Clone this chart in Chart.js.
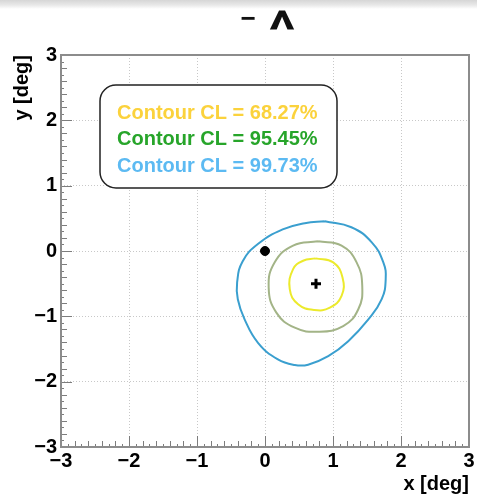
<!DOCTYPE html>
<html>
<head>
<meta charset="utf-8">
<script src="https://cdn.jsdelivr.net/npm/chart.js@4.4.1/dist/chart.umd.min.js"></script>
<style>
  html, body { margin: 0; padding: 0; }
  body { width: 477px; height: 496px; background: linear-gradient(to bottom, #d6d6d6 0px, #e8e8e8 5px, #ffffff 9px); }
  #plot { display: block; }
</style>
</head>
<body>
<canvas id="plot" width="477" height="496"></canvas>
<script>
// axis ticks (deg)
var tickValues = [-3, -2, -1, 0, 1, 2, 3];

// contour levels and their colours
var clLevels = ["68.27", "95.45", "99.73"];
var clLineColors = ["#ecea2c", "#a3b487", "#3a9fcf"];
var clTextColors = ["#fbd23c", "#27a52a", "#5cbaf2"];

// 68.27% contour
var c68X = [0.742, 1.003, 1.14, 1.126, 0.954, 0.723, 0.487, 0.364, 0.413, 0.56];
var c68Y = [-0.113, -0.174, -0.405, -0.687, -0.867, -0.903, -0.815, -0.585, -0.277, -0.149];

// 95.45% contour
var c95X = [0.78, 1.126, 1.347, 1.43, 1.372, 1.15, 0.78, 0.438, 0.167, 0.054, 0.143, 0.413];
var c95Y = [0.149, 0.082, -0.174, -0.533, -0.892, -1.149, -1.236, -1.174, -0.943, -0.559, -0.174, 0.082];

// 99.73% contour
var c99X = [0.88, 1.27, 1.57, 1.74, 1.775, 1.716, 1.52, 1.224, 0.93, 0.634, 0.438, 0.19, -0.103, -0.30, -0.40, -0.41, -0.33, -0.10, 0.26, 0.585];
var c99Y = [0.456, 0.364, 0.133, -0.174, -0.431, -0.738, -1.046, -1.38, -1.61, -1.74, -1.745, -1.66, -1.405, -1.046, -0.738, -0.482, -0.16, 0.11, 0.33, 0.425];

// nominal position and best fit
var nominalX = [0];
var nominalY = [0];
var bestX = [0.75];
var bestY = [-0.5];

function toPoints(xs, ys, closed) {
  var pts = xs.map(function(v, i) { return { x: v, y: ys[i] }; });
  if (closed) pts.push({ x: xs[0], y: ys[0] });
  return pts;
}

function fmtTick(v) {
  return v < 0 ? "\u2212" + Math.abs(v) : String(v);
}

var font = '"Liberation Sans", Arial, Helvetica, sans-serif';

// frame + inward minor ticks, ROOT style
var frameTicks = {
  id: "frameTicks",
  afterDatasetsDraw: function(chart) {
    var ctx = chart.ctx, a = chart.chartArea, sx = chart.scales.x, sy = chart.scales.y;
    ctx.save();
    ctx.strokeStyle = "#7d7d7d";
    ctx.lineWidth = 1;
    ctx.beginPath();
    for (var i = -30; i <= 30; i++) {
      var len = i % 10 === 0 ? 11 : (i % 2 === 0 ? 6 : 3);
      var px = Math.round(sx.getPixelForValue(i / 10)) + 0.5;
      ctx.moveTo(px, a.bottom);
      ctx.lineTo(px, a.bottom - len);
      var py = Math.round(sy.getPixelForValue(i / 10)) + 0.5;
      ctx.moveTo(a.left, py);
      ctx.lineTo(a.left + len, py);
    }
    ctx.stroke();
    ctx.lineWidth = 2;
    ctx.strokeStyle = "#8c8c8c";
    ctx.strokeRect(a.left, a.top, a.right - a.left, a.bottom - a.top);
    ctx.restore();
  }
};

// rounded CL box and the title
var clBox = {
  id: "clBox",
  afterDraw: function(chart) {
    var ctx = chart.ctx, a = chart.chartArea;
    var bx = a.left + 39, by = a.top + 30, bw = 237, bh = 103;
    ctx.save();
    ctx.beginPath();
    ctx.roundRect(bx, by, bw, bh, 16);
    ctx.fillStyle = "#fff";
    ctx.fill();
    ctx.lineWidth = 1.5;
    ctx.strokeStyle = "#222";
    ctx.stroke();
    ctx.font = "bold 20px " + font;
    ctx.textBaseline = "middle";
    ctx.textAlign = "left";
    clLevels.forEach(function(lv, i) {
      ctx.fillStyle = clTextColors[i];
      ctx.fillText("Contour CL = " + lv + "%", bx + 17, by + 28 + i * 26.5);
    });

    // title
    ctx.fillStyle = "#111";
    ctx.textAlign = "center";
    ctx.font = "bold 26px " + font;
    ctx.fillText("\u2212", 248, 20);
    ctx.translate(282, 22);
    ctx.scale(1.3, 1);
    ctx.lineWidth = 1.2;
    ctx.strokeStyle = "#111";
    ctx.strokeText("\u039B", 0, 0);
    ctx.fillText("\u039B", 0, 0);
    ctx.restore();
  }
};

var ctx = document.getElementById("plot").getContext("2d");
var datasets = [
  [c68X, c68Y], [c95X, c95Y], [c99X, c99Y]
].map(function(c, i) {
  return {
    label: "CL " + clLevels[i],
    data: toPoints(c[0], c[1], true),
    showLine: true,
    tension: 0.45,
    borderColor: clLineColors[i],
    borderWidth: 2,
    pointRadius: 0,
    fill: false
  };
});
datasets.push({
  label: "nominal",
  data: toPoints(nominalX, nominalY, false),
  pointRadius: 4.5,
  backgroundColor: "#000",
  borderColor: "#000"
});
datasets.push({
  label: "best fit",
  data: toPoints(bestX, bestY, false),
  pointStyle: "cross",
  pointRadius: 5,
  borderWidth: 3,
  borderColor: "#000"
});

var chart = new Chart(ctx, {
  type: "scatter",
  data: { datasets: datasets },
  options: {
    responsive: false,
    devicePixelRatio: 1,
    animation: false,
    layout: { padding: { top: 55, right: 7, left: 0, bottom: 0 } },
    plugins: { legend: { display: false }, tooltip: { enabled: false } },
    scales: {
      x: {
        type: "linear",
        min: -3,
        max: 3,
        afterBuildTicks: function(s) { s.ticks = tickValues.map(function(v) { return { value: v }; }); },
        afterFit: function(s) { s.height = 49; },
        ticks: {
          callback: fmtTick,
          color: "#000",
          padding: 2,
          maxRotation: 0,
          autoSkip: false,
          font: { family: font, size: 20, weight: "bold" }
        },
        grid: { color: "#c8c8c8", lineWidth: 1, drawTicks: false },
        border: { display: false, dash: [1, 2] },
        title: {
          display: true,
          text: "x [deg]",
          align: "end",
          color: "#000",
          padding: { top: 0, bottom: 0 },
          font: { family: font, size: 20, weight: "bold" }
        }
      },
      y: {
        type: "linear",
        min: -3,
        max: 3,
        afterBuildTicks: function(s) { s.ticks = tickValues.map(function(v) { return { value: v }; }); },
        afterFit: function(s) { s.width = 61; },
        ticks: {
          callback: fmtTick,
          color: "#000",
          padding: 4,
          autoSkip: false,
          font: { family: font, size: 20, weight: "bold" }
        },
        grid: { color: "#c8c8c8", lineWidth: 1, drawTicks: false },
        border: { display: false, dash: [1, 2] },
        title: {
          display: true,
          text: "y [deg]",
          align: "end",
          color: "#000",
          padding: { top: 10, bottom: 0 },
          font: { family: font, size: 20, weight: "bold" }
        }
      }
    }
  },
  plugins: [frameTicks, clBox]
});
</script>
</body>
</html>
